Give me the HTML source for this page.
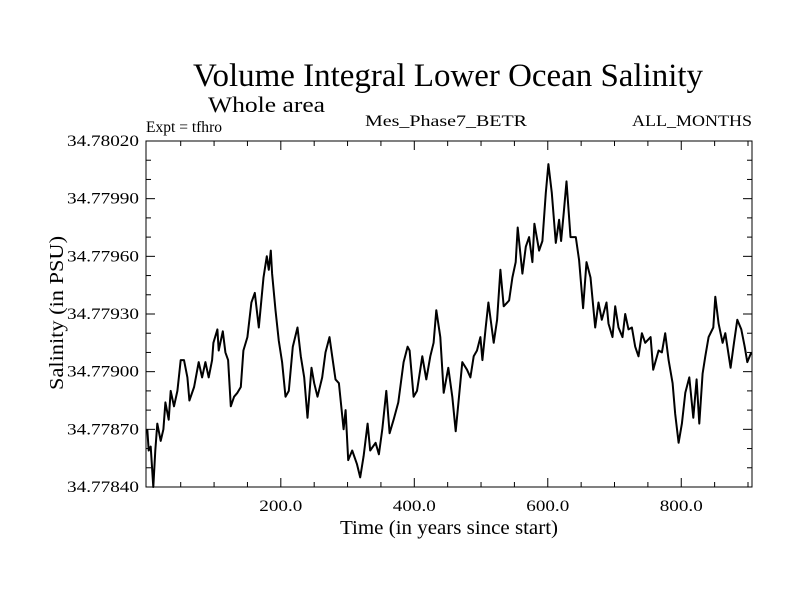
<!DOCTYPE html>
<html><head><meta charset="utf-8"><style>
body{margin:0;background:#fff;}
svg text{font-family:"Liberation Serif",serif;fill:#000;}
</style></head><body>
<svg id="chart" width="800" height="600" viewBox="0 0 800 600" xmlns="http://www.w3.org/2000/svg">
<rect width="800" height="600" fill="#fff"/>
<text x="448" y="86" font-size="33" text-anchor="middle" textLength="510" lengthAdjust="spacingAndGlyphs">Volume Integral Lower Ocean Salinity</text>
<text x="208" y="112" font-size="22" textLength="117" lengthAdjust="spacingAndGlyphs">Whole area</text>
<text x="146" y="132" font-size="16" textLength="76" lengthAdjust="spacingAndGlyphs">Expt = tfhro</text>
<text x="446" y="126" font-size="16" text-anchor="middle" textLength="162" lengthAdjust="spacingAndGlyphs">Mes_Phase7_BETR</text>
<text x="752" y="126" font-size="16" text-anchor="end" textLength="120" lengthAdjust="spacingAndGlyphs">ALL_MONTHS</text>
<text x="449" y="534" font-size="20" text-anchor="middle" textLength="218" lengthAdjust="spacingAndGlyphs">Time (in years since start)</text>
<text transform="translate(63,313) rotate(-90)" font-size="20" text-anchor="middle" textLength="154" lengthAdjust="spacingAndGlyphs">Salinity (in PSU)</text>
<g id="axes"></g>
<rect x="146" y="141" width="606" height="346" fill="none" stroke="#000" stroke-width="1"/>
</svg>
<script>
const years=[0,2,5,9,12,15,20,24,27,32,35,40,45,50,55,60,63,70,77,82,87,92,97,99,105,107,113,117,121,125,130,135,140,144,150,156,161,167,174,179,182,185,187,192,197,202,207,212,218,225,230,235,240,246,250,255,262,267,273,277,282,287,294,297,301,307,314,319,324,330,334,342,347,352,358,363,369,376,384,390,393,399,404,412,418,424,429,433,439,444,451,457,462,467,472,479,484,489,494,499,502,507,511,519,524,529,534,542,547,552,555,562,567,572,577,580,587,592,597,601,606,612,617,620,624,628,634,642,647,653,658,664,671,676,681,688,691,697,701,706,712,716,721,726,731,736,741,746,754,758,766,771,776,781,787,791,796,801,806,812,818,823,827,832,836,841,848,851,856,862,866,874,879,884,890,895,899,905];
const salinity=[34.77870,34.77859,34.77861,34.77840,34.77859,34.77873,34.77864,34.77870,34.77884,34.77875,34.77890,34.77882,34.77890,34.77906,34.77906,34.77897,34.77885,34.77892,34.77905,34.77897,34.77905,34.77897,34.77906,34.77915,34.77922,34.77911,34.77921,34.77910,34.77906,34.77882,34.77887,34.77889,34.77892,34.77911,34.77918,34.77936,34.77941,34.77923,34.77949,34.77960,34.77953,34.77963,34.77951,34.77932,34.77916,34.77905,34.77887,34.77890,34.77913,34.77923,34.77908,34.77897,34.77876,34.77902,34.77894,34.77887,34.77897,34.77910,34.77918,34.77908,34.77896,34.77894,34.77870,34.77880,34.77854,34.77859,34.77852,34.77845,34.77856,34.77873,34.77859,34.77863,34.77857,34.77870,34.77890,34.77868,34.77875,34.77884,34.77905,34.77913,34.77911,34.77887,34.77890,34.77908,34.77896,34.77908,34.77915,34.77932,34.77918,34.77889,34.77902,34.77887,34.77869,34.77887,34.77905,34.77901,34.77897,34.77908,34.77911,34.77918,34.77906,34.77923,34.77936,34.77915,34.77927,34.77953,34.77934,34.77937,34.77949,34.77957,34.77975,34.77951,34.77965,34.77970,34.77957,34.77977,34.77963,34.77968,34.77993,34.78008,34.77993,34.77967,34.77979,34.77968,34.77983,34.77999,34.77970,34.77970,34.77958,34.77933,34.77957,34.77949,34.77923,34.77936,34.77927,34.77936,34.77925,34.77918,34.77934,34.77923,34.77918,34.77930,34.77922,34.77923,34.77913,34.77908,34.77920,34.77915,34.77918,34.77901,34.77911,34.77910,34.77920,34.77906,34.77894,34.77878,34.77863,34.77873,34.77889,34.77897,34.77876,34.77896,34.77873,34.77899,34.77908,34.77918,34.77923,34.77939,34.77925,34.77915,34.77920,34.77902,34.77915,34.77927,34.77922,34.77913,34.77905,34.77910];
const xTickValues=[200,400,600,800];
const xTickLabels=["200.0","400.0","600.0","800.0"];
const yTickValues=[34.7784,34.7787,34.7790,34.7793,34.7796,34.7799,34.7802];
const yTickLabels=["34.77840","34.77870","34.77900","34.77930","34.77960","34.77990","34.78020"];

const L=146,R=752,T=141,B=487,X0=-2,X1=906,Y0=34.7784,Y1=34.7802;
const sx=v=>L+(v-X0)/(X1-X0)*(R-L);
const sy=v=>B-(v-Y0)/(Y1-Y0)*(B-T);
const NS="http://www.w3.org/2000/svg";
const svg=document.getElementById('chart');
const g=document.getElementById('axes');
function line(x1,y1,x2,y2){const l=document.createElementNS(NS,'line');l.setAttribute('x1',x1);l.setAttribute('y1',y1);l.setAttribute('x2',x2);l.setAttribute('y2',y2);l.setAttribute('stroke','#000');l.setAttribute('stroke-width','1');return l;}
for(let v=50;v<X1;v+=50){const big=v%200===0;const len=big?9:5;const x=sx(v);
 const a=line(x,B,x,B-len);
 
 
 g.appendChild(a);
 const b=line(x,T,x,T+len);
 
 
 g.appendChild(b);}
for(let i=0;i<=18;i++){const v=Y0+i*0.0001;const big=i%3===0;const len=big?9:5;const y=sy(v);
 const a=line(L,y,L+len,y);
 
 
 g.appendChild(a);
 const b=line(R,y,R-len,y);
 
 
 g.appendChild(b);}
xTickValues.forEach((v,i)=>{const t=document.createElementNS(NS,'text');t.setAttribute('x',sx(v));t.setAttribute('y',511);t.setAttribute('font-size','16');t.setAttribute('text-anchor','middle');t.setAttribute('textLength','43');t.setAttribute('lengthAdjust','spacingAndGlyphs');t.textContent=xTickLabels[i];
 
 
 g.appendChild(t);});
yTickValues.forEach((v,i)=>{const t=document.createElementNS(NS,'text');t.setAttribute('x',139);t.setAttribute('y',sy(v)+5);t.setAttribute('font-size','16');t.setAttribute('text-anchor','end');t.setAttribute('textLength','72');t.setAttribute('lengthAdjust','spacingAndGlyphs');t.textContent=yTickLabels[i];
 
 
 g.appendChild(t);});
const p=document.createElementNS(NS,'polyline');
p.setAttribute('points',years.map((y,i)=>sx(y).toFixed(1)+','+sy(salinity[i]).toFixed(1)).join(' '));
p.setAttribute('fill','none');p.setAttribute('stroke','#000');p.setAttribute('stroke-width','2');p.setAttribute('stroke-linejoin','round');


svg.appendChild(p);
</script>
</body></html>
